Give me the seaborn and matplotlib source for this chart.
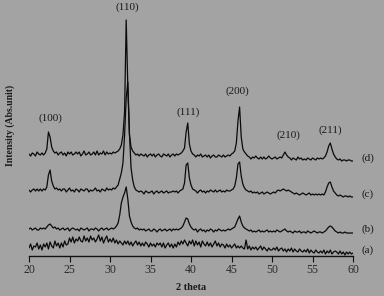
import numpy as np
import pandas as pd
import matplotlib
matplotlib.use("Agg")
import matplotlib.pyplot as plt
import seaborn as sns

# 2-theta grid (degrees), step 0.2 from 20 to 60
two_theta = np.round(np.linspace(20.0, 60.0, 201), 1)

# Relative intensities (arbitrary units)
trace_d = [
    3, 1, 4, 3, 1, 5, 3, 2, 4, 2,
    4, 8, 25, 20, 10, 6, 4, 5, 2, 4,
    5, 2, 4, 1, 5, 3, 5, 2, 3, 5,
    3, 5, 1, 3, 6, 2, 3, 5, 2, 3,
    5, 2, 6, 2, 4, 3, 6, 2, 5, 3,
    4, 3, 5, 4, 5, 6, 8, 12, 22, 45,
    137, 70, 22, 10, 6, 4, 2, 3, 1, 3,
    2, 1, 3, 0, 2, 3, 1, 3, 0, 2,
    3, 1, 0, 3, 2, 1, 3, 0, 2, 3,
    1, 3, 2, 3, 4, 6, 9, 25, 34, 13,
    6, 3, 2, 0, 2, 1, 3, 0, 1, 2,
    0, 2, -1, 1, 2, 0, 0, 2, 1, 0,
    2, 0, 1, 2, 1, 3, 4, 6, 14, 36,
    50, 20, 8, 5, 3, 1, 0, -2, 0, -1,
    1, -1, -2, 0, -2, 0, -2, -1, 1, -1,
    -2, -1, 0, -2, -1, 0, -1, 2, 5, 2,
    0, -1, -3, -1, -2, -3, 0, -2, -1, -3,
    -2, -3, -1, -2, -3, -1, -2, -3, -1, -2,
    -1, -2, -1, 1, 5, 11, 14, 8, 3, 0,
    -2, -3, -2, -4, -3, -3, -4, -3, -3, -4,
    -4,
]

trace_c = [
    3, 1, 3, 4, 2, 4, 2, 4, 2, 4,
    3, 6, 18, 23, 12, 7, 4, 5, 3, 4,
    2, 4, 4, 1, 3, 5, 2, 3, 1, 4,
    3, 1, 4, 3, 2, 4, 4, 1, 3, 2,
    3, 5, 2, 3, 1, 4, 3, 2, 5, 3,
    4, 3, 5, 4, 6, 8, 14, 20, 30, 58,
    95, 111, 60, 25, 13, 6, 3, 2, 1, 2,
    1, -1, 2, 1, 0, 1, 2, -1, 1, 2,
    0, 1, 2, 0, 1, 2, 0, 1, 1, 2,
    1, 2, 0, 2, 3, 4, 10, 28, 30, 15,
    8, 4, 3, 2, 0, 2, 3, 1, 2, 0,
    2, 1, 3, 2, 1, 3, 1, 2, 3, 1,
    2, 1, 3, 2, 2, 3, 4, 7, 15, 29,
    31, 17, 9, 5, 3, 2, 1, 2, 0, 1,
    0, 1, -1, 0, 1, -1, 0, 1, 0, -1,
    0, 1, 0, 2, 3, 2, 3, 4, 3, 2,
    3, 2, 1, 0, -1, 0, -1, -2, -1, 0,
    -1, -2, -1, 0, -2, -1, -2, -1, -2, -1,
    -2, -1, -2, 1, 6, 10, 11, 6, 2, 0,
    -2, -3, -2, -3, -4, -3, -3, -4, -3, -4,
    -4,
]

trace_b = [
    2, 3, 1, 2, 3, 1, 1, 3, 2, 3,
    2, 4, 6, 7, 5, 3, 4, 2, 3, 1,
    2, 3, 1, 2, 3, 0, 2, 3, 2, 1,
    2, 0, 3, 2, 1, 2, 3, 0, 2, 2,
    1, 3, 2, 0, 2, 3, 1, 2, 3, 1,
    2, 3, 2, 3, 5, 8, 16, 28, 34, 38,
    44, 32, 15, 9, 5, 3, 2, 3, 1, 2,
    1, 2, 0, 1, 2, 0, 0, 2, 1, -1,
    1, 2, 0, 1, 2, 0, 1, 2, 0, 2,
    1, 2, 1, 2, 3, 5, 9, 13, 12, 7,
    4, 2, 1, 2, -1, 1, 2, 0, 1, -1,
    1, 0, 2, 1, -1, 1, 0, 2, 1, 0,
    1, 0, 1, 2, 1, 2, 3, 4, 8, 12,
    15, 9, 5, 3, 2, 1, 0, 1, -1, 0,
    -1, 0, 1, -1, 0, -1, 0, 1, -1, 0,
    -1, 0, -1, 1, 0, -1, 0, 1, 2, 0,
    -1, 0, -1, -2, 0, -1, -1, 0, -2, -1,
    -1, -2, 0, -1, -2, -1, 0, -1, -2, -1,
    -1, -2, -1, 0, 2, 4, 5, 4, 2, 0,
    -1, -2, -1, -2, -2, -1, -2, -2, -2, -2,
    -2,
]

trace_a = [
    8, 12, 6, 10, 9, 13, 7, 11, 6, 12,
    9, 13, 7, 14, 10, 8, 15, 10, 13, 8,
    13, 9, 15, 11, 12, 18, 14, 19, 13, 17,
    15, 19, 15, 14, 20, 15, 18, 14, 20, 16,
    18, 14, 17, 21, 15, 19, 13, 17, 20, 14,
    17, 14, 18, 13, 16, 12, 15, 13, 11, 15,
    12, 15, 11, 14, 10, 13, 15, 11, 14, 10,
    13, 10, 14, 12, 9, 13, 10, 12, 9, 13,
    11, 13, 9, 13, 8, 11, 13, 9, 12, 8,
    12, 9, 14, 11, 15, 12, 16, 13, 10, 15,
    12, 16, 10, 15, 11, 14, 9, 15, 12, 10,
    14, 10, 13, 9, 12, 15, 10, 13, 9, 12,
    11, 8, 12, 9, 11, 8, 10, 12, 8, 10,
    8, 10, 8, 7, 16, 7, 10, 6, 9, 7,
    9, 6, 8, 10, 6, 9, 7, 5, 8, 6,
    6, 8, 6, 9, 5, 7, 8, 5, 7, 4,
    7, 5, 8, 4, 7, 5, 4, 7, 5, 4,
    6, 4, 7, 3, 6, 4, 3, 6, 4, 3,
    5, 3, 6, 2, 5, 3, 6, 2, 4, 5,
    4, 2, 5, 2, 4, 1, 4, 2, 4, 2,
    3,
]

sample_names = ["(a)", "(b)", "(c)", "(d)"]
sample_offsets = [0, 25, 63, 99]
sample_label_y = [6, 27, 62, 98]

peak_labels = ["(100)", "(110)", "(111)", "(200)", "(210)", "(211)"]
peak_label_x = [22.6, 32.1, 39.7, 45.7, 52.0, 57.2]
peak_label_y = [138, 249, 144, 165, 121, 126]

x_ticks = [20, 25, 30, 35, 40, 45, 50, 55, 60]

# ---- build long-form table ----
frames = []
for name, vals, off in zip(sample_names, [trace_a, trace_b, trace_c, trace_d], sample_offsets):
    frames.append(pd.DataFrame({"two_theta": two_theta,
                                "intensity": np.asarray(vals, float) + off,
                                "sample": name}))
df = pd.concat(frames, ignore_index=True)

bg = "#a3a3a3"
sns.set_theme(style="white")
plt.rcParams["font.family"] = ["Liberation Serif", "DejaVu Serif"]

fig = plt.figure(figsize=(3.84, 2.96), dpi=100, facecolor=bg)
ax = fig.add_axes([29 / 384, 40 / 296, 324 / 384, 256 / 296])
ax.set_facecolor(bg)

sns.lineplot(data=df, x="two_theta", y="intensity", units="sample",
             estimator=None, color="#0a0a0a", linewidth=0.9, ax=ax,
             legend=False, sort=False)

ax.set_xlim(20, 60)
ax.set_ylim(0, 256)
ax.set_xticks(x_ticks)
ax.set_xticklabels([str(t) for t in x_ticks])
ax.set_yticks([])
for s in ["top", "right", "left"]:
    ax.spines[s].set_visible(False)
ax.spines["bottom"].set_color("#111111")
ax.spines["bottom"].set_linewidth(1.0)
ax.tick_params(axis="x", direction="out", length=4, width=0.8,
               color="#111111", labelsize=8.5, labelcolor="#2a2a2a", pad=2,
               bottom=True)

ax.set_xlabel("2 theta", fontsize=7.5, fontweight="bold", color="#1a1a1a", labelpad=5)
ax.set_ylabel("")
fig.text(10 / 384, 1 - 125 / 296, "Intensity (Abs.unit)", rotation=90,
         ha="center", va="center", fontsize=7, fontweight="bold", color="#1a1a1a")

for lab, px, py in zip(peak_labels, peak_label_x, peak_label_y):
    ax.text(px, py, lab, ha="center", va="center", fontsize=8, color="#1a1a1a")

for name, ly in zip(sample_names, sample_label_y):
    ax.text(61.85, ly, name, ha="center", va="center", fontsize=8,
            color="#1a1a1a", clip_on=False)

fig.savefig("out.png", dpi=100, facecolor=bg)
